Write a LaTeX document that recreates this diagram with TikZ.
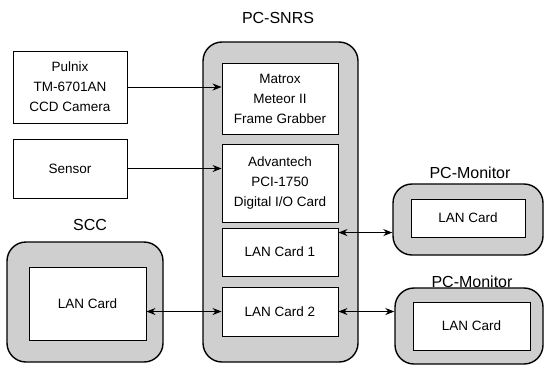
\documentclass[tikz,border=0pt]{standalone}
\usepackage{fontspec}
\setmainfont{Liberation Sans}
\usetikzlibrary{arrows.meta}
\begin{document}
\begin{tikzpicture}[x=1pt,y=-1pt,
  outerbox/.style={draw=black,line width=1.4pt,fill=gray!38,rounded corners=19pt},
  innerbox/.style={draw=black,line width=0.9pt,fill=white,align=center,inner sep=0pt,
    font=\fontsize{13.5}{20}\selectfont},
  plainbox/.style={draw=black,line width=0.9pt,fill=white,align=center,inner sep=0pt,
    font=\fontsize{13.5}{20}\selectfont},
  grouplabel/.style={font=\fontsize{16}{18}\selectfont},
  conn/.style={line width=0.9pt,-{Stealth[length=9pt,width=7pt]}},
  biconn/.style={line width=0.9pt,{Stealth[length=9pt,width=7pt]}-{Stealth[length=9pt,width=7pt]}}]
\useasboundingbox (0,0) rectangle (545,365);

% left devices
\node[plainbox,minimum width=114pt,minimum height=72pt] (cam) at (70,87) {Pulnix\\TM-6701AN\\CCD Camera};
\node[plainbox,minimum width=114pt,minimum height=59pt] (sensor) at (70,168.5) {Sensor};

% PC-SNRS
\node[outerbox,minimum width=155pt,minimum height=320pt] (snrs) at (280.5,202) {};
\node[grouplabel] (snrslbl) at (278,18) {PC-SNRS};
\node[innerbox,minimum width=116pt,minimum height=71pt] (matrox) at (280,98.5) {Matrox\\Meteor II\\Frame Grabber};
\node[innerbox,minimum width=116pt,minimum height=78pt] (adv) at (280,183) {Advantech\\PCI-1750\\Digital I/O Card};
\node[innerbox,minimum width=116pt,minimum height=48pt] (lan1) at (280,252) {LAN Card 1};
\node[innerbox,minimum width=116pt,minimum height=49pt] (lan2) at (280,311.5) {LAN Card 2};

% SCC
\node[outerbox,minimum width=156pt,minimum height=120pt] (scc) at (85,302) {};
\node[grouplabel] (scclbl) at (90,225) {SCC};
\node[innerbox,minimum width=117pt,minimum height=73pt] (sccin) at (87.5,303.5) {LAN Card};

% PC-Monitor 1
\node[outerbox,minimum width=150pt,minimum height=71pt] (mon1) at (468,219.5) {};
\node[grouplabel] (mon1lbl) at (470,173) {PC-Monitor};
\node[innerbox,minimum width=114pt,minimum height=38pt] (mon1in) at (468,218) {LAN Card};

% PC-Monitor 2
\node[outerbox,minimum width=148pt,minimum height=76pt] (mon2) at (469,326) {};
\node[grouplabel] (mon2lbl) at (472,282) {PC-Monitor};
\node[innerbox,minimum width=117pt,minimum height=48pt] (mon2in) at (471.5,326) {LAN Card};

% connectors
\draw[conn] (cam.east) -- (cam.east -| matrox.west);
\draw[conn] (sensor.east) -- (sensor.east -| adv.west);
\draw[biconn] ([yshift=-5pt]lan1.north east) -- ([yshift=-5pt]lan1.north east -| mon1.west);
\draw[biconn] (lan2.west -| sccin.east) -- (lan2.west);
\draw[biconn] (lan2.east) -- (lan2.east -| mon2.west);
\end{tikzpicture}
\end{document}
